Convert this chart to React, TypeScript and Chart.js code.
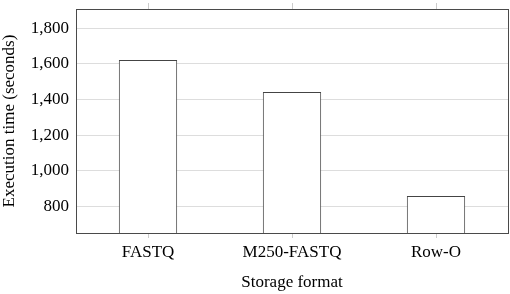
import React, { useEffect, useRef } from "react";
import { Chart, registerables } from "chart.js";

Chart.register(...registerables);

const categories = ["FASTQ", "M250-FASTQ", "Row-O"];
const executionTimes = [1621, 1442, 858];
const yTickValues = [800, 1000, 1200, 1400, 1600, 1800];
const yMin = 650;
const yMax = 1908;
const xTitle = "Storage format";
const yTitle = "Execution time (seconds)";

const FONT = "'Liberation Serif', 'Times New Roman', serif";

const framePlugin = {
  id: "frame",
  afterDraw(chart: any) {
    const { ctx, chartArea } = chart;
    const xs = chart.scales.x;
    ctx.save();
    ctx.strokeStyle = "#cccccc";
    ctx.lineWidth = 1;
    categories.forEach((_, i) => {
      const px = Math.round(xs.getPixelForValue(i)) + 0.5;
      ctx.beginPath();
      ctx.moveTo(px, chartArea.top - 6);
      ctx.lineTo(px, chartArea.top);
      ctx.stroke();
    });
    ctx.strokeStyle = "#4a4a4a";
    ctx.strokeRect(
      Math.round(chartArea.left) + 0.5,
      Math.round(chartArea.top) + 0.5,
      Math.round(chartArea.right - chartArea.left),
      Math.round(chartArea.bottom - chartArea.top)
    );
    ctx.restore();
  },
};

export default function App() {
  const canvasRef = useRef<HTMLCanvasElement | null>(null);

  useEffect(() => {
    document.body.style.margin = "0";
    const canvas = canvasRef.current;
    if (!canvas) return;
    const chart = new Chart(canvas, {
      type: "bar",
      data: {
        labels: categories,
        datasets: [
          {
            data: executionTimes,
            backgroundColor: "#ffffff",
            borderColor: "#444444",
            borderWidth: 1,
            barPercentage: 0.405,
            categoryPercentage: 1,
          },
        ],
      },
      options: {
        animation: false,
        responsive: false,
        maintainAspectRatio: false,
        layout: { padding: { top: 9, right: 2, left: 0, bottom: 0 } },
        plugins: {
          legend: { display: false },
          tooltip: { enabled: false },
        },
        scales: {
          x: {
            afterFit: (s: any) => {
              s.height = 61;
              s.paddingLeft = 0;
              s.paddingRight = 0;
            },
            grid: {
              drawOnChartArea: false,
              drawTicks: true,
              tickLength: 5,
              color: "#cccccc",
              offset: false,
            },
            border: { display: false },
            ticks: {
              color: "#000000",
              font: { family: FONT, size: 17 },
              padding: 4,
              maxRotation: 0,
            },
            title: {
              display: true,
              text: xTitle,
              color: "#000000",
              font: { family: FONT, size: 17, lineHeight: 1.2 },
              padding: { top: 0, bottom: 1 },
            },
          },
          y: {
            min: yMin,
            max: yMax,
            afterFit: (s: any) => {
              s.width = 76;
              s.paddingTop = 0;
              s.paddingBottom = 0;
            },
            afterBuildTicks: (s: any) => {
              s.ticks = yTickValues.map((v) => ({ value: v }));
            },
            grid: {
              drawTicks: false,
              color: "#dddddd",
            },
            border: { display: false },
            ticks: {
              color: "#000000",
              font: { family: FONT, size: 17 },
              padding: 7,
              callback: (v: any) => Number(v).toLocaleString("en-US"),
            },
            title: {
              display: true,
              text: yTitle,
              color: "#000000",
              font: { family: FONT, size: 17, lineHeight: 1.1 },
              padding: { top: 0, bottom: 0 },
            },
          },
        },
      },
      plugins: [framePlugin],
    });
    return () => chart.destroy();
  }, []);

  return (
    <div style={{ width: 510, height: 294, position: "relative" }}>
      <canvas ref={canvasRef} width={510} height={294} style={{ display: "block" }} />
    </div>
  );
}
